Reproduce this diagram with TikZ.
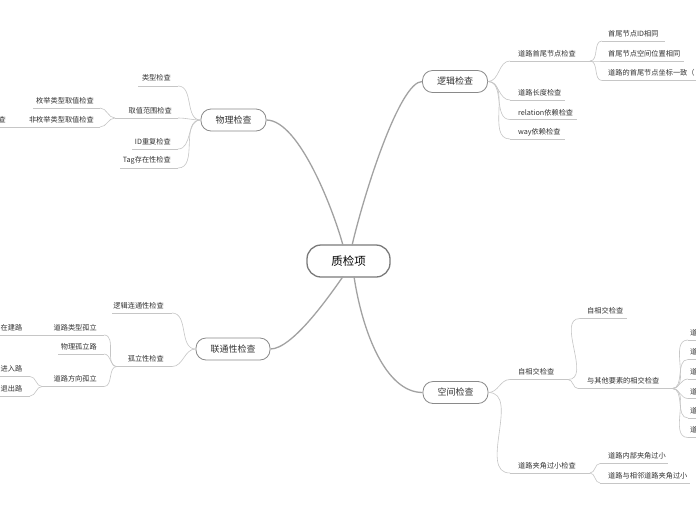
\documentclass[tikz,border=0pt]{standalone}
\usepackage{fontspec}
\setmainfont{Noto Sans CJK SC}
\definecolor{txt}{HTML}{333333}
\definecolor{boxC}{HTML}{8A8A8A}
\definecolor{rootC}{HTML}{7A7A7A}
\definecolor{mainC}{HTML}{A2A2A2}
\definecolor{subC}{HTML}{C6C6C6}
\begin{document}
\begin{tikzpicture}[x=1pt,y=-1pt,
  lbl/.style={font=\fontsize{7.2}{8}\selectfont, text=txt, inner sep=0pt},
  ul/.style={draw=subC, line width=0.6pt},
  mainline/.style={draw=mainC, line width=1.3pt},
  mainbox/.style={draw=boxC, line width=0.8pt, rounded corners=10pt, minimum height=22pt,
    inner sep=0pt, font=\fontsize{9}{10}\selectfont, text=txt, fill=white},
  rootbox/.style={draw=rootC, line width=1.3pt, rounded corners=14pt, minimum height=32pt,
    minimum width=83pt, inner sep=0pt, font=\fontsize{11.5}{12}\selectfont, text=black, fill=white}]
\useasboundingbox (0,0) rectangle (696,520);
\clip (0,0) rectangle (696,520);
\fill[white] (0,0) rectangle (696,520);

% ---------- main nodes ----------
\node[rootbox] (root) at (348.5,261) {质检项};
\node[mainbox, minimum width=65pt] (phys) at (233.5,120) {物理检查};
\node[mainbox, minimum width=65pt] (logic) at (455,81.5) {逻辑检查};
\node[mainbox, minimum width=74pt] (conn) at (233,349) {联通性检查};
\node[mainbox, minimum width=65pt] (space) at (455.5,392.5) {空间检查};

\coordinate (r1) at (343,245.5);
\coordinate (r2) at (352,245.5);
\coordinate (r3) at (343,276.5);
\coordinate (r4) at (354,276.5);

\draw[mainline] (r1) .. controls (335,215) and (300,120) .. (phys.east);
\draw[mainline] (r2) .. controls (365,190) and (400,81.5) .. (logic.west);
\draw[mainline] (r3) .. controls (328,298) and (292,349) .. (conn.east);
\draw[mainline] (r4) .. controls (362,330) and (385,392.5) .. (space.west);

% ---------- 物理检查 ----------
\node[lbl,anchor=east] (p1) at (171,78) {类型检查};
\coordinate (p1L) at (138,86); \coordinate (p1R) at (178,86);
\node[lbl,anchor=east] (p2) at (172,111) {取值范围检查};
\coordinate (p2L) at (115,118); \coordinate (p2R) at (178,118);
\node[lbl,anchor=east] (p3) at (171,141.5) {ID重复检查};
\coordinate (p3L) at (132,149); \coordinate (p3R) at (178,149);
\node[lbl,anchor=east] (p4) at (171,160.5) {Tag存在性检查};
\coordinate (p4L) at (120,168); \coordinate (p4R) at (178,168);
\foreach \n in {p1,p2,p3,p4}{
  \draw[ul] (\n L) -- (\n R);
  \draw[ul] (phys.west) to[out=180,in=0] (\n R);
}
\node[lbl,anchor=east] (p21) at (94,101) {枚举类型取值检查};
\coordinate (p21L) at (33,108); \coordinate (p21R) at (100,108);
\node[lbl,anchor=east] (p22) at (94,119.5) {非枚举类型取值检查};
\coordinate (p22L) at (35,127); \coordinate (p22R) at (100,127);
\foreach \n in {p21,p22}{
  \draw[ul] (\n L) -- (\n R);
  \draw[ul] (p2L) to[out=180,in=0] (\n R);
}
\node[lbl,anchor=east] (p221) at (6,119.5) {查};
\coordinate (p221L) at (-10,127);
\draw[ul] (p221L) -- (p22L);

% ---------- 逻辑检查 ----------
\node[lbl,anchor=west] (l1) at (518,53.5) {道路首尾节点检查};
\coordinate (l1L) at (510,61); \coordinate (l1R) at (590,61);
\node[lbl,anchor=west] (l2) at (518,93) {道路长度检查};
\coordinate (l2L) at (510,100); \coordinate (l2R) at (565,100);
\node[lbl,anchor=west] (l3) at (518,112.5) {relation依赖检查};
\coordinate (l3L) at (510,119.5); \coordinate (l3R) at (577,119.5);
\node[lbl,anchor=west] (l4) at (518,132) {way依赖检查};
\coordinate (l4L) at (510,139); \coordinate (l4R) at (565,139);
\foreach \n in {l1,l2,l3,l4}{
  \draw[ul] (\n L) -- (\n R);
  \draw[ul] (logic.east) to[out=0,in=180] (\n L);
}
\node[lbl,anchor=west] (l11) at (608,34) {首尾节点ID相同};
\coordinate (l11L) at (602,41); \coordinate (l11R) at (665,41);
\node[lbl,anchor=west] (l12) at (608,53.5) {首尾节点空间位置相同};
\coordinate (l12L) at (602,61); \coordinate (l12R) at (684,61);
\node[lbl,anchor=west] (l13) at (608,73) {道路的首尾节点坐标一致（};
\coordinate (l13L) at (602,80.5); \coordinate (l13R) at (700,80.5);
\foreach \n in {l11,l12,l13}{
  \draw[ul] (\n L) -- (\n R);
  \draw[ul] (l1R) to[out=0,in=180] (\n L);
}

% ---------- 联通性检查 ----------
\node[lbl,anchor=east] (c1) at (164,306) {逻辑连通性检查};
\coordinate (c1L) at (112,313); \coordinate (c1R) at (172,313);
\node[lbl,anchor=east] (c2) at (164,359) {孤立性检查};
\coordinate (c2L) at (117,366.5); \coordinate (c2R) at (172,366.5);
\foreach \n in {c1,c2}{
  \draw[ul] (\n L) -- (\n R);
  \draw[ul] (conn.west) to[out=180,in=0] (\n R);
}
\node[lbl,anchor=east] (c21) at (97,328) {道路类型孤立};
\coordinate (c21L) at (45,335); \coordinate (c21R) at (104,335);
\node[lbl,anchor=east] (c22) at (97,346.5) {物理孤立路};
\coordinate (c22L) at (58,354); \coordinate (c22R) at (104,354);
\node[lbl,anchor=east] (c23) at (97,379) {道路方向孤立};
\coordinate (c23L) at (42,386.5); \coordinate (c23R) at (104,386.5);
\foreach \n in {c21,c22,c23}{
  \draw[ul] (\n L) -- (\n R);
  \draw[ul] (c2L) to[out=180,in=0] (\n R);
}
\node[lbl,anchor=west] (c211) at (0.5,327.5) {在建路};
\coordinate (c211L) at (-10,335);
\draw[ul] (c211L) -- (c21L);
\node[lbl,anchor=west] (c231) at (0.5,369) {进入路};
\coordinate (c231L) at (-10,376.5); \coordinate (c231R) at (30,376.5);
\node[lbl,anchor=west] (c232) at (0.5,388.5) {退出路};
\coordinate (c232L) at (-10,396); \coordinate (c232R) at (30,396);
\foreach \n in {c231,c232}{
  \draw[ul] (\n L) -- (\n R);
  \draw[ul] (c23L) to[out=180,in=0] (\n R);
}

% ---------- 空间检查 ----------
\node[lbl,anchor=west] (s1) at (518,372) {自相交检查};
\coordinate (s1L) at (510,379.5); \coordinate (s1R) at (568,379.5);
\node[lbl,anchor=west] (s2) at (518,465.5) {道路夹角过小检查};
\coordinate (s2L) at (510,473); \coordinate (s2R) at (590,473);
\foreach \n in {s1,s2}{
  \draw[ul] (\n L) -- (\n R);
  \draw[ul] (space.east) to[out=0,in=180] (\n L);
}
\node[lbl,anchor=west] (s11) at (587,311) {自相交检查};
\coordinate (s11L) at (580,318.5); \coordinate (s11R) at (627,318.5);
\node[lbl,anchor=west] (s12) at (587,380.5) {与其他要素的相交检查};
\coordinate (s12L) at (578,388.5); \coordinate (s12R) at (672,388.5);
\foreach \n in {s11,s12}{
  \draw[ul] (\n L) -- (\n R);
  \draw[ul] (s1R) to[out=0,in=180] (\n L);
}
\foreach \i/\ty/\uy in {1/333/340, 2/352/359.5, 3/372/379, 4/391.5/398.5, 5/411/418, 6/430/437.5}{
  \node[lbl,anchor=west] (s12\i) at (690,\ty) {道};
  \coordinate (s12\i L) at (688,\uy);
  \coordinate (s12\i R) at (700,\uy);
  \draw[ul] (s12\i L) -- (s12\i R);
  \draw[ul] (s12R) to[out=0,in=180] (s12\i L);
}
\node[lbl,anchor=west] (s21) at (608,456) {道路内部夹角过小};
\coordinate (s21L) at (600,463.5); \coordinate (s21R) at (668,463.5);
\node[lbl,anchor=west] (s22) at (608,475.5) {道路与相邻道路夹角过小};
\coordinate (s22L) at (600,483); \coordinate (s22R) at (690,483);
\foreach \n in {s21,s22}{
  \draw[ul] (\n L) -- (\n R);
  \draw[ul] (s2R) to[out=0,in=180] (\n L);
}
\end{tikzpicture}
\end{document}
